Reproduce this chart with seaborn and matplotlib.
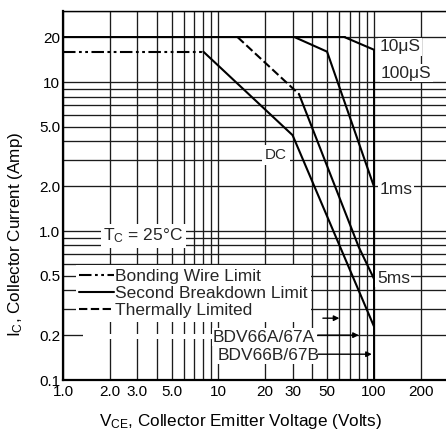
import numpy as np
import pandas as pd
import matplotlib
matplotlib.use("Agg")
import matplotlib.pyplot as plt
import seaborn as sns
from matplotlib.ticker import LogLocator, NullFormatter
from matplotlib.lines import Line2D
from matplotlib.patches import Rectangle

# ---------------- data ----------------
x_ticks = [1, 2, 3, 5, 10, 20, 30, 50, 100, 200]
x_tick_labels = ["1.0", "2.0", "3.0", "5.0", "10", "20", "30", "50", "100", "200"]
y_ticks = [0.1, 0.2, 0.5, 1, 2, 5, 10, 20]
y_tick_labels = ["0.1", "0.2", "0.5", "1.0", "2.0", "5.0", "10", "20"]

vce_max = [1, 65]
ic_max = [20, 20]
vce_bond = [1, 8]
ic_bond = [16, 16]
vce_dc = [8, 30, 100]
ic_dc = [16, 4.4, 0.23]
vce_thermal = [13.3, 33]
ic_thermal = [20, 8.3]
vce_5ms = [33, 80, 100]
ic_5ms = [8.3, 0.78, 0.48]
vce_1ms = [31, 50, 100]
ic_1ms = [20, 16, 2.0]
vce_10us = [65, 100]
ic_10us = [20, 16.5]
vce_vmax = [100, 100]
ic_vmax = [0.1, 16.5]

# rating arrows: (start V, end V, current)
arrow_v0 = [47, 43.6, 43.6]
arrow_v1 = [60, 80, 97]
arrow_i = [0.26, 0.2, 0.149]

# ---------------- style ----------------
sns.set_theme(style="white")
plt.rcParams["font.family"] = ["Liberation Sans", "DejaVu Sans"]
plt.rcParams["mathtext.fontset"] = "custom"
plt.rcParams["mathtext.rm"] = "Liberation Sans"
plt.rcParams["mathtext.it"] = "Liberation Sans:italic"
plt.rcParams["lines.scale_dashes"] = False

FS = 11      # tick labels
FT = 12.5    # in-plot annotations / legend
FL = 12.3    # axis labels
fig = plt.figure(figsize=(4.46, 4.37), dpi=100)
ax = fig.add_axes([63 / 446, 57 / 437, 385 / 446, 369 / 437])
ax.set_xscale("log")
ax.set_yscale("log")
ax.set_xlim(1, 300)
ax.set_ylim(0.1, 30)

DASHDOT = (0, (9, 2.5, 2, 2.5, 2, 2.5))
DASHED = (0, (6, 2.5))


def draw(x, y, ls="-", lw=1.5):
    sns.lineplot(x=x, y=y, ax=ax, color="black", lw=lw, linestyle=ls,
                 estimator=None, sort=False, legend=False, zorder=3)


draw(vce_max, ic_max, lw=1.4)
draw(vce_bond, ic_bond, ls=DASHDOT)
draw(vce_dc, ic_dc)
draw(vce_thermal, ic_thermal, ls=DASHED)
draw(vce_5ms, ic_5ms)
draw(vce_1ms, ic_1ms)
draw(vce_10us, ic_10us)
draw(vce_vmax, ic_vmax, lw=1.4)

# ticks and grid
ax.set_xticks(x_ticks)
ax.set_xticklabels(x_tick_labels)
ax.set_yticks(y_ticks)
ax.set_yticklabels(y_tick_labels)
ax.xaxis.set_minor_locator(LogLocator(base=10, subs=np.arange(1, 10), numticks=30))
ax.yaxis.set_minor_locator(LogLocator(base=10, subs=np.arange(1, 10), numticks=30))
ax.xaxis.set_minor_formatter(NullFormatter())
ax.yaxis.set_minor_formatter(NullFormatter())
ax.tick_params(which="both", length=0, labelsize=FS, colors="black")
ax.tick_params(axis="x", pad=3.5)
ax.tick_params(axis="y", pad=2)
ax.set_axisbelow(True)
ax.grid(True, which="both", color="#1c1c1c", lw=0.95)

for s in ["left", "bottom"]:
    ax.spines[s].set_linewidth(1.6)
    ax.spines[s].set_color("black")
ax.spines["top"].set_linewidth(1.0)
ax.spines["top"].set_color("black")
ax.spines["right"].set_visible(False)

# labels
ax.set_xlabel(r"V$\mathregular{_{CE}}$, Collector Emitter Voltage (Volts)", fontsize=FL, color="black")
ax.set_ylabel(r"I$\mathregular{_C}$, Collector Current (Amp)", fontsize=FL, color="black")
ax.xaxis.set_label_coords((240 - 63) / 385, -0.086)
ax.yaxis.set_label_coords(-0.098, 0.396)

wb = dict(facecolor="white", edgecolor="none", pad=1.0)
ax.text(109, 17.2, "10μS", fontsize=FT, va="center", ha="left", bbox=wb, zorder=4)
ax.text(111, 11.5, "100μS", fontsize=FT, va="center", ha="left", bbox=wb, zorder=4)
ax.text(109, 1.89, "1ms", fontsize=FT, va="center", ha="left", bbox=wb, zorder=4)
ax.text(104.5, 0.48, "5ms", fontsize=FT, va="center", ha="left", bbox=wb, zorder=4)
ax.text(19.9, 3.24, "DC", fontsize=FS, va="center", ha="left",
        bbox=dict(facecolor="white", edgecolor="none", pad=2.0), zorder=4)
ax.text(1.82, 0.93, r"T$\mathregular{_C}$ = 25°C", fontsize=FT, va="center", ha="left",
        bbox=dict(facecolor="white", edgecolor="none", pad=2.0), zorder=4)
ax.text(9.22, 0.194, "BDV66A/67A", fontsize=FT, va="center", ha="left", bbox=wb, zorder=4)
ax.text(9.93, 0.147, "BDV66B/67B", fontsize=FT, va="center", ha="left", bbox=wb, zorder=4)

# white strip breaking the 0.2 A grid line left of the rating labels
ax.add_patch(Rectangle(((83 - 63) / 385, (380 - 338.5) / 369), (212 - 83) / 385, 5 / 369,
                       transform=ax.transAxes, facecolor="white", edgecolor="none", zorder=1))

for v0, v1, i in zip(arrow_v0, arrow_v1, arrow_i):
    ax.annotate("", xy=(v1, i), xytext=(v0, i),
                arrowprops=dict(arrowstyle="-|>", color="black", lw=1.0,
                                mutation_scale=8, shrinkA=0, shrinkB=0), zorder=4)

handles = [Line2D([], [], color="black", lw=1.5, linestyle=DASHDOT),
           Line2D([], [], color="black", lw=1.5),
           Line2D([], [], color="black", lw=1.5, linestyle=DASHED)]
leg = ax.legend(handles, ["Bonding Wire Limit", "Second Breakdown Limit", "Thermally Limited"],
                loc="upper left", bbox_to_anchor=((76 - 63) / 385, (380 - 265) / 369),
                fontsize=FT, frameon=True, fancybox=False, framealpha=1,
                facecolor="white", edgecolor="white", borderpad=0.2,
                handlelength=2.0, handletextpad=0.05, labelspacing=0.13,
                borderaxespad=0)
leg.get_frame().set_linewidth(0)

fig.savefig("out.png", dpi=100)
